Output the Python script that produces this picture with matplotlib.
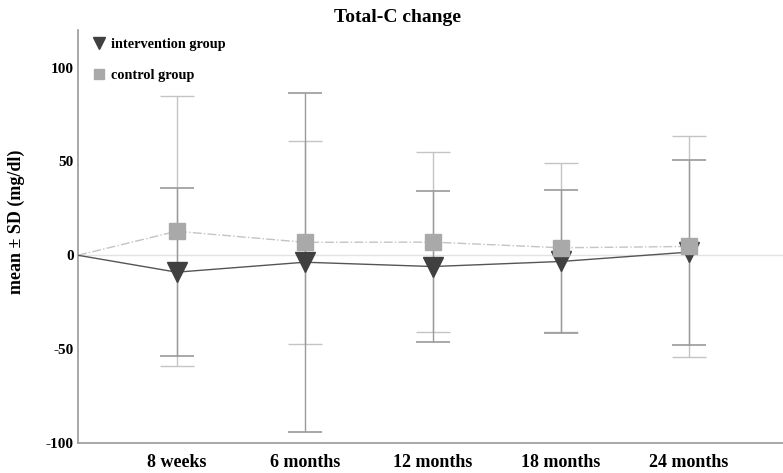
import numpy as np
import matplotlib
matplotlib.use("Agg")
import matplotlib.pyplot as plt

plt.rcParams['font.family'] = ['Liberation Serif', 'DejaVu Serif']
plt.rcParams['axes.unicode_minus'] = False

categories = ['8 weeks', '6 months', '12 months', '18 months', '24 months']
interv_mean = [-9.0, -3.7, -6.0, -3.3, 1.7]
interv_sd = [44.6, 90.3, 40.2, 38.0, 49.3]
control_mean = [12.8, 6.9, 7.0, 4.0, 4.7]
control_sd = [71.8, 54.2, 47.8, 45.0, 58.7]
baseline = 0.0

x = np.arange(1, len(categories) + 1)
x_start = 0.23  # baseline sits on the left edge of the axis

fig = plt.figure(figsize=(7.83, 4.73), dpi=100)
ax = fig.add_axes([0.0996, 0.0634, 0.9, 0.8732])

dark = '#404040'
light = '#a9a9a9'

ax.axhline(0, color='#e2e2e2', lw=1.0, zorder=0)

# error bars
ax.errorbar(x, control_mean, yerr=control_sd, fmt='none', ecolor='#c4c4c4',
            elinewidth=1.0, capsize=12, capthick=1.0, linestyle='-.', zorder=1)
ax.errorbar(x, interv_mean, yerr=interv_sd, fmt='none', ecolor='#9a9a9a',
            elinewidth=1.0, capsize=12, capthick=1.2, zorder=2)

# lines from baseline
ax.plot(np.r_[x_start, x], np.r_[baseline, control_mean], color='#c4c4c4',
        lw=1.0, ls='-.', zorder=3)
ax.plot(np.r_[x_start, x], np.r_[baseline, interv_mean], color='#555555',
        lw=1.0, ls='-', zorder=3)

ax.plot(x, interv_mean, ls='none', marker='v', ms=14, color=dark,
        mec=dark, zorder=4)
ax.plot(x, control_mean, ls='none', marker='s', ms=11, color=light,
        mec=light, zorder=5)

# legend handles (smaller markers than the plot)
h_int, = ax.plot([], [], ls='none', marker='v', ms=8, color=dark, mec=dark)
h_con, = ax.plot([], [], ls='none', marker='s', ms=7, color=light, mec=light)

ax.set_xlim(x_start, 5.73)
ax.set_ylim(-100, 120)
ax.set_yticks([-100, -50, 0, 50, 100])
ax.set_xticks(x)
ax.set_xticklabels(categories, fontsize=13, fontweight='bold')
for t in ax.get_yticklabels():
    t.set_fontweight('bold')
    t.set_fontsize(11)
ax.tick_params(axis='y', length=0, pad=3)
ax.tick_params(axis='x', length=0, pad=8)

for s in ['top', 'right']:
    ax.spines[s].set_visible(False)
for s in ['left', 'bottom']:
    ax.spines[s].set_color('#9a9a9a')
    ax.spines[s].set_linewidth(1.2)

ax.set_ylabel('mean ± SD (mg/dl)', fontsize=13, fontweight='bold')
ax.yaxis.set_label_coords(-0.075, 0.535)

ax.legend([h_int, h_con], ['intervention group', 'control group'],
          loc='upper left', frameon=False,
          prop={'weight': 'bold', 'size': 10.3}, handlelength=1.0,
          handletextpad=0.3, labelspacing=1.3, borderaxespad=0.0,
          bbox_to_anchor=(0.012, 0.995))

fig.text(397 / 783, 1 - 17 / 473, 'Total-C change', ha='center', va='center',
         fontsize=14, fontweight='bold')

fig.savefig('out.png', dpi=100)
